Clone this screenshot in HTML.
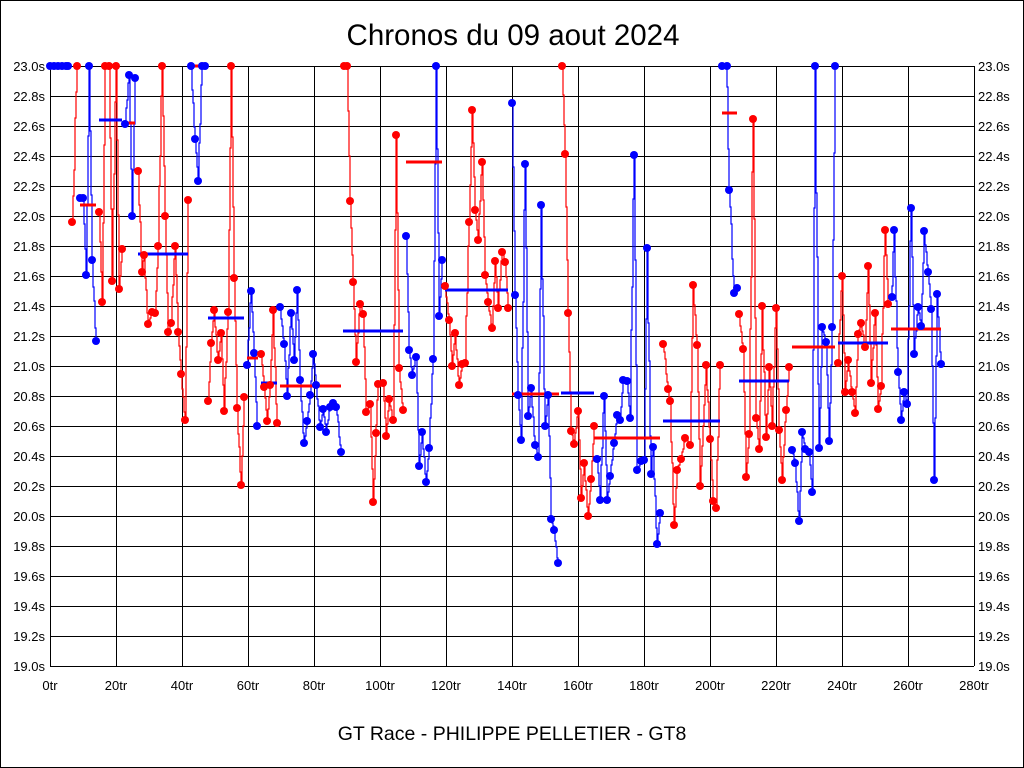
<!DOCTYPE html>
<html><head><meta charset="utf-8"><style>
html,body{margin:0;padding:0;background:#fff}
svg{display:block;font-family:"Liberation Sans",Arial,sans-serif}
</style></head><body>
<svg id="s" width="1024" height="768" viewBox="0 0 1024 768" xmlns="http://www.w3.org/2000/svg">
<rect x="0" y="0" width="1024" height="768" fill="#fff"/>
<rect x="0.5" y="0.5" width="1023" height="767" fill="none" stroke="#000"/>
<text x="513" y="45" font-size="29.5" text-anchor="middle">Chronos du 09 aout 2024</text>
<text x="512" y="740" font-size="19.5" text-anchor="middle">GT Race - PHILIPPE PELLETIER - GT8</text>
<g id="grid" stroke="#000" stroke-width="1"></g>
<g font-size="13" fill="#000">
<text x="45" y="71" text-anchor="end">23.0s</text><text x="45" y="101" text-anchor="end">22.8s</text><text x="45" y="131" text-anchor="end">22.6s</text><text x="45" y="161" text-anchor="end">22.4s</text><text x="45" y="191" text-anchor="end">22.2s</text><text x="45" y="221" text-anchor="end">22.0s</text><text x="45" y="251" text-anchor="end">21.8s</text><text x="45" y="281" text-anchor="end">21.6s</text><text x="45" y="311" text-anchor="end">21.4s</text><text x="45" y="341" text-anchor="end">21.2s</text><text x="45" y="371" text-anchor="end">21.0s</text><text x="45" y="401" text-anchor="end">20.8s</text><text x="45" y="431" text-anchor="end">20.6s</text><text x="45" y="461" text-anchor="end">20.4s</text><text x="45" y="491" text-anchor="end">20.2s</text><text x="45" y="521" text-anchor="end">20.0s</text><text x="45" y="551" text-anchor="end">19.8s</text><text x="45" y="581" text-anchor="end">19.6s</text><text x="45" y="611" text-anchor="end">19.4s</text><text x="45" y="641" text-anchor="end">19.2s</text><text x="45" y="671" text-anchor="end">19.0s</text>
<text x="978" y="71">23.0s</text><text x="978" y="101">22.8s</text><text x="978" y="131">22.6s</text><text x="978" y="161">22.4s</text><text x="978" y="191">22.2s</text><text x="978" y="221">22.0s</text><text x="978" y="251">21.8s</text><text x="978" y="281">21.6s</text><text x="978" y="311">21.4s</text><text x="978" y="341">21.2s</text><text x="978" y="371">21.0s</text><text x="978" y="401">20.8s</text><text x="978" y="431">20.6s</text><text x="978" y="461">20.4s</text><text x="978" y="491">20.2s</text><text x="978" y="521">20.0s</text><text x="978" y="551">19.8s</text><text x="978" y="581">19.6s</text><text x="978" y="611">19.4s</text><text x="978" y="641">19.2s</text><text x="978" y="671">19.0s</text>
<text x="50" y="690" text-anchor="middle">0tr</text><text x="116" y="690" text-anchor="middle">20tr</text><text x="182" y="690" text-anchor="middle">40tr</text><text x="248" y="690" text-anchor="middle">60tr</text><text x="314" y="690" text-anchor="middle">80tr</text><text x="380" y="690" text-anchor="middle">100tr</text><text x="446" y="690" text-anchor="middle">120tr</text><text x="512" y="690" text-anchor="middle">140tr</text><text x="578" y="690" text-anchor="middle">160tr</text><text x="644" y="690" text-anchor="middle">180tr</text><text x="710" y="690" text-anchor="middle">200tr</text><text x="776" y="690" text-anchor="middle">220tr</text><text x="842" y="690" text-anchor="middle">240tr</text><text x="908" y="690" text-anchor="middle">260tr</text><text x="974" y="690" text-anchor="middle">280tr</text>
</g>
<g id="data"></g>
</svg>
<script>
var NS="http://www.w3.org/2000/svg";
function el(t,a,p){var e=document.createElementNS(NS,t);for(var k in a)e.setAttribute(k,a[k]);p.appendChild(e);return e;}
var g=document.getElementById('grid');
for(var i=0;i<=14;i++){var x=50+i*66;el('line',{x1:x+.5,y1:66,x2:x+.5,y2:666},g);}
for(var j=0;j<=20;j++){var y=66+j*30;el('line',{x1:50,y1:y+.5,x2:974,y2:y+.5},g);}
var S=[
['b',[[50,66],[54,66],[58,66],[62,66],[66,66],[68,66]]],
['r',[[72,222],[77,66]]],
['b',[[80,198],[83,198],[86,275],[89,66],[92,260],[96,341]]],
['r',[[99,212],[102,302],[105,66],[109,66],[112,281],[116,66],[119,289],[122,249]]],
['b',[[125,124],[129,75],[132,216],[135,78]]],
['r',[[138,171],[142,272],[144,255],[148,324],[152,312],[155,313],[158,246],[162,66],[165,216],[168,332],[171,323],[175,246],[178,332],[181,374],[185,420],[188,200]]],
['b',[[191,66],[195,139],[198,181],[202,66],[205,66]]],
['r',[[208,401],[211,343],[214,310],[218,360],[221,333],[224,411],[228,312],[231,66],[234,278],[237,408],[241,485],[244,397]]],
['b',[[247,365],[251,291],[254,353],[257,426]]],
['r',[[261,354],[264,387],[267,421],[270,385],[273,310],[277,423]]],
['b',[[280,307],[284,344],[287,396],[291,313],[294,360],[297,290],[300,380],[304,443],[307,421],[310,395],[313,354],[316,385],[320,427],[323,409],[326,432],[330,407],[333,403],[336,407],[341,452]]],
['r',[[344,66],[347,66],[350,201],[353,282],[356,362],[360,304],[363,314],[366,412],[370,404],[373,502],[376,433],[378,384],[383,383],[386,436],[389,399],[393,420],[396,135],[399,368],[403,410]]],
['b',[[406,236],[409,350],[412,375],[416,357],[419,466],[422,432],[426,482],[429,448],[433,359],[436,66],[439,316],[442,260]]],
['r',[[445,286],[449,320],[452,366],[455,333],[459,385],[462,364],[465,363],[469,222],[472,110],[475,210],[478,240],[482,162],[485,275],[488,302],[492,328],[495,261],[498,308],[502,252],[505,262],[508,308]]],
['b',[[512,103],[515,295],[518,395],[521,440],[525,164],[528,416],[531,388],[535,445],[538,457],[541,205],[545,426],[548,395],[551,519],[554,530],[558,563]]],
['r',[[562,66],[565,154],[568,313],[571,431],[574,444],[578,411],[581,498],[584,463],[588,516],[591,479],[594,426]]],
['b',[[597,459],[600,500],[604,396],[607,500],[610,476],[614,443],[617,415],[620,420],[623,380],[627,381],[630,418],[634,155],[637,470],[641,461],[644,460],[647,248],[651,474],[653,447],[657,544],[660,513]]],
['r',[[663,344],[668,389],[670,401],[674,525],[677,470],[681,459],[685,438],[690,445],[693,285],[697,345],[700,486],[706,365],[710,439],[713,501],[716,508],[720,365]]],
['b',[[722,66],[727,66],[729,190],[734,293],[737,288]]],
['r',[[739,314],[743,349],[746,477],[749,434],[753,119],[756,418],[759,449],[762,306],[766,437],[769,367],[772,426],[776,308],[779,430],[782,480],[786,410],[789,367]]],
['b',[[792,450],[795,463],[799,521],[802,432],[805,449],[809,452],[812,492],[815,66],[819,448],[822,327],[826,342],[829,441],[832,327],[835,66]]],
['r',[[838,363],[842,276],[845,392],[848,360],[852,392],[855,413],[858,334],[861,323],[865,347],[868,266],[871,383],[875,313],[878,409],[881,386],[885,230],[888,304]]],
['b',[[892,297],[894,230],[898,372],[901,420],[904,392],[907,404],[911,208],[914,354],[918,307],[921,326],[924,231],[928,272],[931,309],[934,480],[937,294],[941,364]]]
];
var M=[['r',80,96,205],['b',99,122,120],['r',125,135,123],['b',138,188,254],['r',191,202,66],['b',208,244,318],['r',247,258,358],['b',261,277,383],['r',280,341,386],['b',343,403,331],['r',406,442,162],['b',445,508,290],['r',512,559,394],['b',561,594,393],['r',594,660,438],['b',663,720,421],['r',722,737,113],['b',739,789,381],['r',792,835,347],['b',838,888,343],['r',891,941,329]];
var d=document.getElementById('data');
function c(k){return k=='r'?'#ff0000':'#0000ff';}
S.forEach(function(s){var col=c(s[0]);var p=s[1];var pts=[];
for(var i=0;i<p.length;i++){
 if(i>0){var a=p[i-1],b=p[i],n=6;
  for(var k=1;k<n;k++){var x=Math.round(a[0]+(b[0]-a[0])*k/n),y=Math.round(a[1]+(b[1]-a[1])*k/n);pts.push(x+','+pts[pts.length-1].split(',')[1]);pts.push(x+','+y);}
  pts.push(b[0]+','+pts[pts.length-1].split(',')[1]);
 }
 pts.push(p[i][0]+','+p[i][1]);}
el('polyline',{points:pts.join(' '),fill:'none',stroke:col,'stroke-width':1.2},d);});
M.forEach(function(m){el('line',{x1:m[1],y1:m[3],x2:m[2],y2:m[3],stroke:c(m[0]),'stroke-width':3},d);});
S.forEach(function(s){var col=c(s[0]);s[1].forEach(function(p){el('circle',{cx:p[0],cy:p[1],r:4,fill:col},d);});});
</script>
</body></html>
